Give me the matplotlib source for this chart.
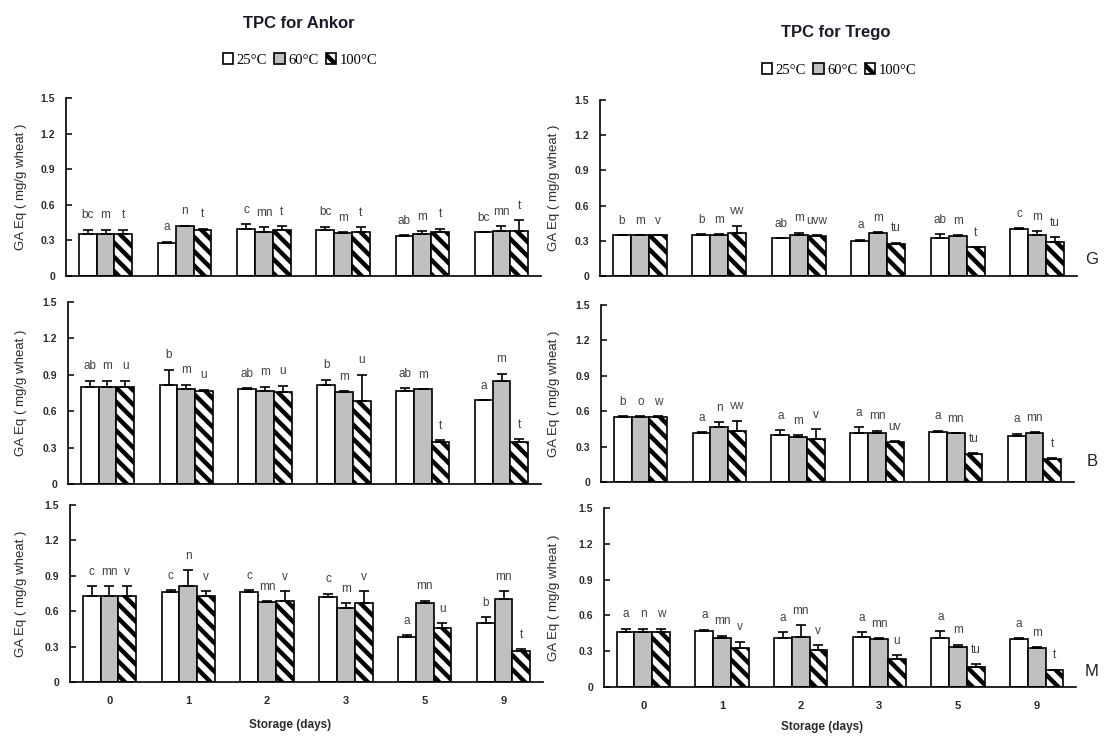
import matplotlib
matplotlib.use('Agg')
import matplotlib.pyplot as plt
import numpy as np
from matplotlib.patches import Patch
from matplotlib.backend_bases import GraphicsContextBase

# ---------------- data ----------------
days = ['0', '1', '2', '3', '5', '9']
temps = ['25°C', '60°C', '100°C']
cultivars = ['Ankor', 'Trego']
fractions = ['G', 'B', 'M']

# each list: [25°C series, 60°C series, 100°C series]
ankor_G_mean = [[0.35, 0.28, 0.40, 0.385, 0.335, 0.37],
                [0.35, 0.42, 0.37, 0.36, 0.35, 0.38],
                [0.35, 0.39, 0.39, 0.37, 0.37, 0.38]]
ankor_G_err = [[0.04, 0.01, 0.04, 0.03, 0.01, 0.0],
               [0.04, 0.005, 0.04, 0.01, 0.03, 0.04],
               [0.04, 0.01, 0.03, 0.04, 0.03, 0.09]]
ankor_G_let = [['bc', 'a', 'c', 'bc', 'ab', 'bc'],
               ['m', 'n', 'mn', 'm', 'm', 'mn'],
               ['t', 't', 't', 't', 't', 't']]

ankor_B_mean = [[0.80, 0.82, 0.78, 0.82, 0.77, 0.69],
                [0.80, 0.78, 0.77, 0.755, 0.78, 0.85],
                [0.80, 0.77, 0.76, 0.68, 0.35, 0.35]]
ankor_B_err = [[0.05, 0.12, 0.01, 0.04, 0.02, 0.0],
               [0.05, 0.04, 0.03, 0.01, 0.0, 0.06],
               [0.05, 0.005, 0.05, 0.22, 0.01, 0.02]]
ankor_B_let = [['ab', 'b', 'ab', 'b', 'ab', 'a'],
               ['m', 'm', 'm', 'm', 'm', 'm'],
               ['u', 'u', 'u', 'u', 't', 't']]

ankor_M_mean = [[0.73, 0.76, 0.76, 0.72, 0.38, 0.50],
                [0.73, 0.81, 0.68, 0.63, 0.67, 0.70],
                [0.73, 0.73, 0.69, 0.67, 0.46, 0.26]]
ankor_M_err = [[0.08, 0.02, 0.02, 0.03, 0.02, 0.05],
               [0.08, 0.14, 0.005, 0.04, 0.02, 0.07],
               [0.08, 0.04, 0.08, 0.10, 0.04, 0.02]]
ankor_M_let = [['c', 'c', 'c', 'c', 'a', 'b'],
               ['mn', 'n', 'mn', 'm', 'mn', 'mn'],
               ['v', 'v', 'v', 'v', 'u', 't']]

trego_G_mean = [[0.35, 0.35, 0.325, 0.30, 0.325, 0.40],
                [0.35, 0.35, 0.35, 0.365, 0.34, 0.35],
                [0.35, 0.37, 0.34, 0.275, 0.25, 0.29]]
trego_G_err = [[0.0, 0.01, 0.0, 0.01, 0.03, 0.01],
               [0.0, 0.01, 0.02, 0.01, 0.01, 0.03],
               [0.0, 0.06, 0.01, 0.01, 0.0, 0.04]]
trego_G_let = [['b', 'b', 'ab', 'a', 'ab', 'c'],
               ['m', 'm', 'm', 'm', 'm', 'm'],
               ['v', 'vw', 'uvw', 'tu', 't', 'tu']]

trego_B_mean = [[0.55, 0.415, 0.40, 0.415, 0.425, 0.39],
                [0.55, 0.465, 0.385, 0.415, 0.415, 0.415],
                [0.55, 0.43, 0.365, 0.34, 0.235, 0.195]]
trego_B_err = [[0.01, 0.01, 0.04, 0.05, 0.01, 0.02],
               [0.01, 0.04, 0.01, 0.02, 0.0, 0.01],
               [0.01, 0.09, 0.08, 0.005, 0.01, 0.01]]
trego_B_let = [['b', 'a', 'a', 'a', 'a', 'a'],
               ['o', 'n', 'm', 'mn', 'mn', 'mn'],
               ['w', 'vw', 'v', 'uv', 'tu', 't']]

trego_M_mean = [[0.46, 0.47, 0.41, 0.42, 0.41, 0.40],
                [0.46, 0.41, 0.42, 0.40, 0.335, 0.325],
                [0.46, 0.33, 0.31, 0.235, 0.17, 0.145]]
trego_M_err = [[0.03, 0.01, 0.05, 0.04, 0.06, 0.01],
               [0.03, 0.02, 0.10, 0.01, 0.02, 0.01],
               [0.03, 0.05, 0.04, 0.03, 0.02, 0.0]]
trego_M_let = [['a', 'a', 'a', 'a', 'a', 'a'],
               ['n', 'mn', 'mn', 'mn', 'm', 'm'],
               ['w', 'v', 'v', 'u', 'tu', 't']]

yticks = [0, 0.3, 0.6, 0.9, 1.2, 1.5]
ytick_labels = ['0', '0.3', '0.6', '0.9', '1.2', '1.5']

# ---------------- layout / style ----------------
W, H = 1104, 745
plt.rcParams['font.family'] = ['Liberation Sans', 'DejaVu Sans']
plt.rcParams['hatch.linewidth'] = 3.2

# hatch spacing (even line count so the pattern tiles seamlessly)
_orig_hatch_path = GraphicsContextBase.get_hatch_path


def _hatch_path(self, density=6.0):
    return _orig_hatch_path(self, density=14.0)


GraphicsContextBase.get_hatch_path = _hatch_path

fig = plt.figure(figsize=(W / 100, H / 100), dpi=100)


def ax_px(x0, y0, x1, y1):
    return fig.add_axes([x0 / W, 1 - y1 / H, (x1 - x0) / W, (y1 - y0) / H])


face = ['white', '#c0c0c0', 'white']
hatches = [None, None, '\\']
text_col = '#2b2b2b'


def draw(ax, means, errs, lets, bottom_row):
    x = np.arange(len(days))
    w = 0.225
    n = len(days)
    for i in range(3):
        xs = x + (i - 1) * w
        ax.bar(xs, means[i], w, facecolor=face[i], edgecolor='black',
               linewidth=1.2, hatch=hatches[i], zorder=2)
        ax.errorbar(xs, means[i], yerr=[np.zeros(n), errs[i]], fmt='none',
                    ecolor='black', elinewidth=1.2, capsize=3.3, capthick=1.2,
                    zorder=3)
        for xx, m, e, l in zip(xs, means[i], errs[i], lets[i]):
            ax.text(xx, m + e + 0.095, l, ha='center', va='baseline',
                    fontsize=8.5, color='#404048')
    ax.set_xlim(-0.5, n - 0.5)
    ax.set_ylim(0, 1.5)
    ax.set_yticks(yticks)
    ax.set_yticklabels(ytick_labels, fontsize=7.5, fontweight='bold', color=text_col)
    ax.tick_params(axis='y', direction='in', length=4, width=1.1, pad=8)
    ax.set_xticks(x)
    if bottom_row:
        ax.set_xticklabels(days, fontsize=8, fontweight='bold', color=text_col)
    else:
        ax.set_xticklabels([])
    ax.tick_params(axis='x', length=0, pad=10)
    for s in ['top', 'right']:
        ax.spines[s].set_visible(False)
    for s in ['left', 'bottom']:
        ax.spines[s].set_linewidth(1.2)
    ax.patch.set_alpha(0)


boxes_left = [(66, 98, 541, 276), (68, 302, 541, 484), (70, 505, 543, 682)]
boxes_right = [(600, 100, 1077, 276), (601, 305, 1074, 482), (604, 508, 1076, 687)]

left_data = [(ankor_G_mean, ankor_G_err, ankor_G_let),
             (ankor_B_mean, ankor_B_err, ankor_B_let),
             (ankor_M_mean, ankor_M_err, ankor_M_let)]
right_data = [(trego_G_mean, trego_G_err, trego_G_let),
              (trego_B_mean, trego_B_err, trego_B_let),
              (trego_M_mean, trego_M_err, trego_M_let)]

ylab = 'GA Eq ( mg/g wheat )'
for r in range(3):
    for boxes, data, ylx in [(boxes_left, left_data, 21), (boxes_right, right_data, 554)]:
        b = boxes[r]
        ax = ax_px(*b)
        draw(ax, *data[r], bottom_row=(r == 2))
        fig.text(ylx / W, 1 - ((b[1] + b[3]) / 2) / H, ylab, rotation=90,
                 ha='center', va='center', fontsize=9.5, color=text_col)

# fraction letters on the right
for (yy, lab) in zip([260, 462, 672], fractions):
    fig.text(1092 / W, 1 - yy / H, lab, ha='center', va='center',
             fontsize=12, color='#222222')

# titles
fig.text(299 / W, 1 - 24 / H, 'TPC for ' + cultivars[0], ha='center', va='center',
         fontsize=12, fontweight='bold', color='#1a1a2a')
fig.text(836 / W, 1 - 32 / H, 'TPC for ' + cultivars[1], ha='center', va='center',
         fontsize=12, fontweight='bold', color='#1a1a2a')

# x labels
fig.text(290 / W, 1 - 725 / H, 'Storage (days)', ha='center', va='center',
         fontsize=8.5, fontweight='bold', color=text_col)
fig.text(822 / W, 1 - 727 / H, 'Storage (days)', ha='center', va='center',
         fontsize=8.5, fontweight='bold', color=text_col)

# legends
handles = [Patch(facecolor=face[i], edgecolor='black', linewidth=1.2,
                 hatch=hatches[i]) for i in range(3)]
for cx, cy in [(300, 60), (839, 70)]:
    fig.legend(handles, temps, loc='center', bbox_to_anchor=(cx / W, 1 - cy / H),
               ncol=3, frameon=False, handlelength=0.7, handleheight=0.7,
               handletextpad=0.25, columnspacing=0.5,
               prop={'family': 'Liberation Serif', 'size': 10.5})

fig.savefig('out.png', dpi=100)
